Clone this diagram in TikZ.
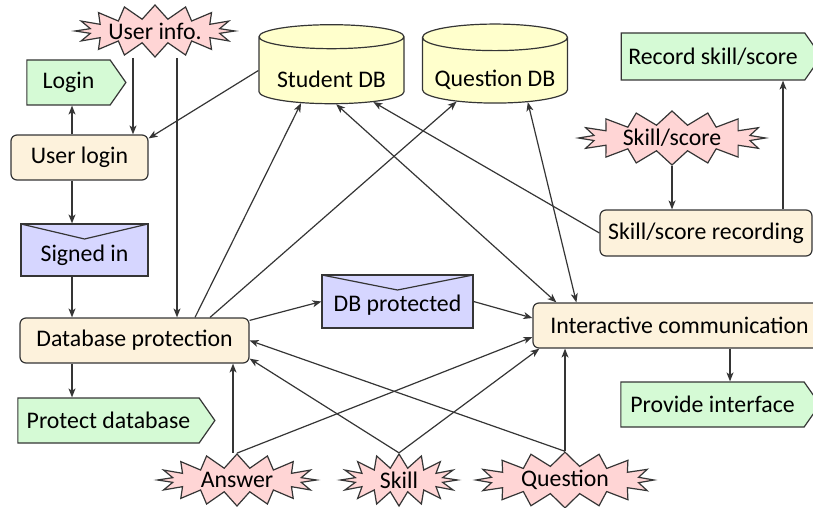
\documentclass[tikz,border=0pt]{standalone}
\usepackage{fontspec}
\setmainfont{Carlito}
\usetikzlibrary{shapes.geometric,shapes.symbols,arrows.meta}
\definecolor{bordc}{HTML}{353535}
\definecolor{procc}{HTML}{FDF2DC}
\definecolor{sigc}{HTML}{D5FAD5}
\definecolor{dbc}{HTML}{FFFFCC}
\definecolor{msgc}{HTML}{D6D6FF}
\definecolor{evtc}{HTML}{FFD5D5}
\begin{document}
\begin{tikzpicture}[x=1pt,y=-1pt,
  font=\fontsize{23.8}{28}\selectfont,
  base/.style={draw=bordc, line width=1.2pt, text=black, inner sep=0pt},
  proc/.style={base, rectangle, rounded corners=6pt, fill=procc, minimum height=45pt},
  sig/.style={base, signal, signal to=east, signal pointer angle=110, fill=sigc, minimum height=45pt},
  db/.style={base, cylinder, shape border rotate=90, aspect=0.22, fill=dbc, minimum width=145pt, minimum height=79pt},
  msg/.style={base, rectangle, fill=msgc, minimum height=52pt,
    path picture={\draw[bordc, line width=1.2pt] (path picture bounding box.north west) -- ([yshift=-15pt]path picture bounding box.north) -- (path picture bounding box.north east);}},
  evt/.style={base, starburst, starburst points=16, starburst point height=14pt, random starburst=0, fill=evtc, minimum height=52pt},
  arr/.style={draw=bordc, line width=1.2pt, -{Stealth[length=9pt,width=7pt,inset=2.5pt]}},
  arrb/.style={draw=bordc, line width=1.2pt, {Stealth[length=9pt,width=7pt,inset=2.5pt]}-{Stealth[length=9pt,width=7pt,inset=2.5pt]}}
]
\useasboundingbox (0,0) rectangle (813,508);

% nodes
\node[evt, minimum width=154pt] (userinfo) at (155,31) {User info.};
\node[sig, minimum width=99pt] (login) at (68.5,82.5) {Login};
\node[proc, minimum width=137pt] (ulogin) at (79.5,157.5) {User login};
\node[msg, minimum width=127pt] (signed) at (84.5,250) {\raisebox{-5pt}[\height][\depth]{Signed in}};
\node[proc, minimum width=229pt] (dbprot) at (134.5,340.5) {Database protection};
\node[sig, minimum width=197pt] (protdb) at (108.5,420.5) {Protect database};
\node[db] (studdb) at (331.5,70.5) {\raisebox{-9pt}[\height][\depth]{Student DB}};
\node[db] (qdb) at (495,70.5) {\raisebox{-9pt}[\height][\depth]{Question DB}};
\node[sig, minimum width=200pt, minimum height=47pt] (record) at (713,56.5) {Record skill/score};
\node[evt, minimum width=187pt, minimum height=54pt] (skillscore) at (672,138) {Skill/score};
\node[proc, minimum width=212pt, minimum height=46pt] (ssrec) at (706,233) {Skill/score recording};
\node[msg, minimum width=151pt, minimum height=53pt] (dbpt) at (397.5,301.5) {\raisebox{-4pt}[\height][\depth]{DB protected}};
\node[proc, minimum width=293pt] (ic) at (679.5,325.5) {Interactive communication};
\node[sig, minimum width=199pt] (provide) at (712.5,404.5) {Provide interface};
\node[evt, minimum width=159pt, minimum height=52pt] (answer) at (237,480) {Answer};
\node[evt, minimum width=117pt, minimum height=52pt] (skill) at (399,480) {Skill};
\node[evt, minimum width=178pt, minimum height=52pt] (question) at (565,480) {Question};

% connectors
\draw[arr] ([xshift=-22pt]userinfo.south) -- ([xshift=-22pt]userinfo.south |- ulogin.north);
\draw[arr] ([xshift=22pt]userinfo.south) -- ([xshift=22pt]userinfo.south |- dbprot.north);
\draw[arr] (studdb.west) -- ([yshift=-4pt]ulogin.north east);
\draw[arr] ([xshift=-7.5pt]ulogin.north) -- ([xshift=-7.5pt]ulogin.north |- login.south);
\draw[arr] ([xshift=-7.5pt]ulogin.south) -- ([xshift=-7.5pt]ulogin.south |- signed.north);
\draw[arr] ([xshift=-12.5pt]signed.south) -- ([xshift=-12.5pt]signed.south |- dbprot.north);
\draw[arr] ([xshift=-62.5pt]dbprot.south) -- ([xshift=-62.5pt]dbprot.south |- protdb.north);
\draw[arr] ([xshift=60.5pt]dbprot.north) -- (studdb.-133.5);
\draw[arr] ([xshift=75.5pt]dbprot.north) -- (qdb.-141.4);
\draw[arrb] (studdb.-82.5) -- ([xshift=24pt]ic.north west);
\draw[arrb] (qdb.-44.6) -- ([xshift=44pt]ic.north west);
\draw[arr] (ssrec.west) -- (studdb.-37.5);
\draw[arr] ([yshift=-3pt]dbprot.north east) -- (dbpt.west);
\draw[arr] (dbpt.east) -- ([yshift=7.5pt]ic.west);
\draw[arr] (skillscore.south) -- (skillscore.south |- ssrec.north);
\draw[arr] ([xshift=77pt]ssrec.north) -- ([xshift=77pt]ssrec.north |- record.south);
\draw[arr] ([xshift=50.5pt]ic.south) -- ([xshift=50.5pt]ic.south |- provide.north);
\draw[arr] ([xshift=-4pt]answer.north) -- ([xshift=-4pt]answer.north |- dbprot.south);
\draw[arr] (answer.north) -- ([yshift=-11.5pt]ic.west);
\draw[arr] (skill.north) -- ([yshift=5pt]dbprot.south east);
\draw[arr] (skill.north) -- ([xshift=7pt]ic.south west);
\draw[arr] (question.north) -- (dbprot.east);
\draw[arr] (question.north) -- (question.north |- ic.south);
\end{tikzpicture}
\end{document}
